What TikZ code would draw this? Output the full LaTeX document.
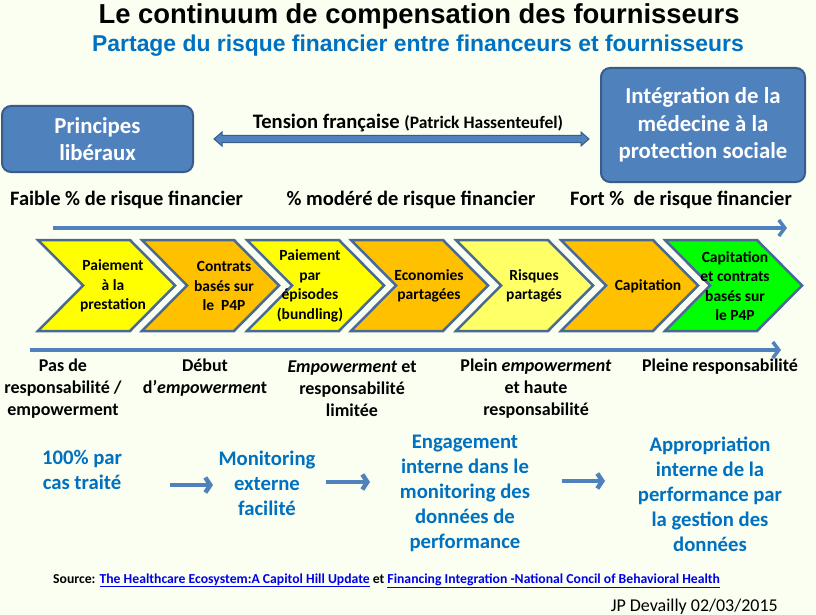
\documentclass[tikz,border=0pt]{standalone}
\usepackage{fontspec}
\setmainfont{Carlito}
\newfontfamily\arialfont{Liberation Sans}
\usetikzlibrary{arrows.meta}

\definecolor{bg}{RGB}{250,255,242}
\definecolor{boxblue}{RGB}{79,129,189}
\definecolor{boxline}{RGB}{56,93,138}
\definecolor{titleblue}{RGB}{0,112,192}
\definecolor{chevline}{RGB}{74,106,148}
\definecolor{yel}{RGB}{255,255,0}
\definecolor{lyel}{RGB}{255,255,102}
\definecolor{orng}{RGB}{255,192,0}
\definecolor{grn}{RGB}{0,255,0}
\definecolor{linkblue}{RGB}{0,0,230}

\tikzset{
  bluebox/.style={draw=boxline, line width=2pt, fill=boxblue, rounded corners=9pt,
    text=white, font=\bfseries\fontsize{22.8}{27.5}\selectfont, align=center},
  chev/.style={draw=chevline, line width=2.5pt, line join=miter},
  chevtext/.style={font=\bfseries\fontsize{15.5}{19.5}\selectfont, align=center, inner sep=0},
  risk/.style={font=\bfseries\fontsize{20.5}{22}\selectfont, inner sep=0},
  resp/.style={font=\bfseries\fontsize{18}{22}\selectfont, align=center, inner sep=0},
  mon/.style={font=\bfseries\fontsize{20.7}{25}\selectfont, text=titleblue, align=center, inner sep=0},
  longarrow/.style={draw=boxblue, line width=3.5pt, -{Straight Barb[length=6pt,width=16pt]}},
  shortarrow/.style={draw=boxblue, line width=4.5pt, -{Straight Barb[length=5pt,width=15pt]}}
}

\begin{document}
\begin{tikzpicture}[x=1pt,y=-1pt]

      \fill[bg] (0,0) rectangle (816,615);
      \useasboundingbox (0,0) rectangle (816,615);

      % titre
      \node (titre) at (419,16) [font=\arialfont\bfseries\fontsize{27.4}{30}\selectfont] {Le continuum de compensation des fournisseurs};
      \node (soustitre) at (418,46) [font=\arialfont\bfseries\fontsize{22.9}{25}\selectfont, text=titleblue] {Partage du risque financier entre financeurs et fournisseurs};

      % boites
      \node (lib) at (97.5,139) [bluebox, minimum width=191, minimum height=66] {Principes\\libéraux};
      \node (soc) at (703,125) [bluebox, minimum width=204, minimum height=114] {Intégration de la\\médecine à la\\protection sociale};

      % tension
      \path (214,139) coordinate (tg); \path (589,139) coordinate (td);
      \filldraw[fill=boxblue, draw=boxline, line width=1pt]
        (tg) -- ++(8,-7) -- ++(0,3.5) -- ++(359,0) -- ++(0,-3.5) -- (td)
        -- ++(-8,7) -- ++(0,-3.5) -- ++(-359,0) -- ++(0,3.5) -- cycle;
      \node (tension) at (408,123) [font=\bfseries\fontsize{20.6}{22}\selectfont] {Tension française {\fontsize{17.5}{19}\selectfont(Patrick Hassenteufel)}};

      % risque
      \node (faible) at (10,200) [risk, anchor=west] {Faible \% de risque financier};
      \node (modere) at (411,200) [risk] {\% modéré de risque financier};
      \node (fort) at (681,200) [risk] {Fort \%\ \ de risque financier};
      \path (53,228) coordinate (r0); \path (787,228) coordinate (r1);
      \draw[longarrow] (r0) -- (r1);

      % chevrons
      \foreach \x/\c/\t/\s [count=\i] in {
          38/yel/113/{Paiement\\à la\\prestation},
          142/orng/224/{Contrats\\basés sur\\le\ \ P4P},
          247/yel/310/{Paiement\\par\\épisodes\\(bundling)},
          351/orng/429/{Economies\\partagées},
          456/lyel/534/{Risques\\partagés},
          561/orng/648/{Capitation},
          665/grn/735/{Capitation\\et contrats\\basés sur\\le P4P}}{
        \filldraw[chev, fill=\c] (\x,240) -- ++(92,0) -- ++(45,45.5) -- ++(-45,45.5)
          -- ++(-92,0) -- ++(45,-45.5) -- cycle;
        \node (ch\i) at (\t,286) [chevtext] {\s};
      }

      % responsabilite
      \path (30,350) coordinate (e0); \path (781,350) coordinate (e1);
      \draw[longarrow] (e0) -- (e1);
      \node (resp1) at (63,389) [resp] {Pas de\\responsabilité /\\empowerment};
      \node (resp2) at (205,378) [resp] {Début\\d’\textit{empowermen}t};
      \node (resp3) at (352,389) [resp] {\textit{Empowerment} et\\responsabilité\\limitée};
      \node (resp4) at (536,389) [resp] {Plein \textit{empowerment}\\et haute\\responsabilité};
      \node (resp5) at (720,367) [resp] {Pleine responsabilité};

      % monitoring
      \node (mon1) at (82,469.5) [mon] {100\% par\\cas traité};
      \node (mon2) at (267,483) [mon] {Monitoring\\externe\\facilité};
      \node (mon3) at (465,493) [mon] {Engagement\\interne dans le\\monitoring des\\données de\\performance};
      \node (mon4) at (710,494) [mon] {Appropriation\\interne de la\\performance par\\la gestion des\\données};
      \foreach \a/\b/\y in {170/213/485, 326/370/482, 562/605/481}{
        \path (\a,\y) coordinate (m\a); \path (\b,\y) coordinate (n\a);
        \draw[shortarrow] (m\a) -- (n\a);
      }

      % source
      \node (source) at (53,583) [anchor=base west, inner sep=0, font=\bfseries\fontsize{13.7}{15}\selectfont]
        {Source: \textcolor{linkblue}{\underline{The Healthcare Ecosystem:A Capitol Hill Update}} et \textcolor{linkblue}{\underline{Financing Integration -National Concil of Behavioral Health}}};
      \node (auteur) at (778,611) [anchor=base east, inner sep=0, font=\fontsize{18}{20}\selectfont] {JP Devailly 02/03/2015};

\end{tikzpicture}
\end{document}
